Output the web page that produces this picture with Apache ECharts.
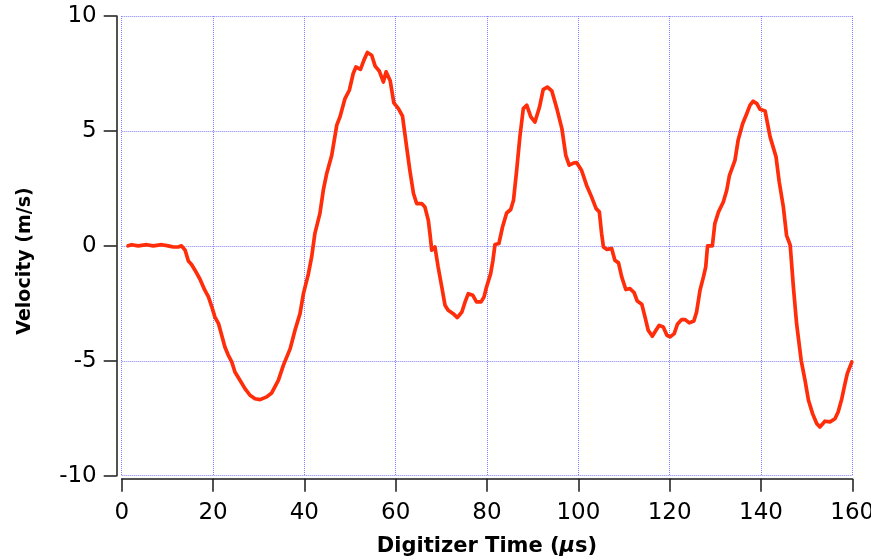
<!DOCTYPE html>
<html>
<head>
<meta charset="utf-8">
<script src="https://cdn.jsdelivr.net/npm/echarts@6/dist/echarts.min.js"></script>
<style>
  html, body { margin: 0; padding: 0; background: #fff; }
  #chart { width: 871px; height: 560px; }
</style>
</head>
<body>
<div id="chart"></div>
<script>
// Digitizer time (µs) and measured velocity (m/s)
const timeUs = [
  1.4, 2.2, 3.6, 5.5, 6.9, 8.8, 10.2, 11.3, 12.4, 13.1, 13.9, 14.6, 15.3, 16.05,
  17.1, 18.2, 19.0, 19.7, 20.4, 21.2, 21.9, 22.6, 23.35, 24.1, 24.8, 25.9, 27.0,
  28.1, 29.2, 30.3, 31.75, 32.85, 34.3, 35.4, 36.9, 37.95, 39.05, 39.8, 40.9,
  41.6, 42.3, 43.4, 44.15, 44.9, 46.0, 47.1, 47.8, 48.5, 48.9, 49.85, 50.7, 51.3,
  52.3, 53.05, 53.8, 54.75, 55.5, 56.4, 57.3, 57.9, 58.8, 59.6, 60.6, 61.5, 62.4,
  63.1, 63.9, 64.6, 65.7, 66.4, 67.15, 67.5, 67.9, 68.6, 69.3, 70.1, 70.8, 71.5,
  72.6, 73.5, 74.5, 75.2, 75.9, 76.9, 77.7, 78.7, 79.35, 79.9, 80.8, 81.3, 81.75,
  82.6, 83.4, 84.3, 85.2, 85.8, 86.5, 87.2, 87.95, 88.7, 89.6, 90.5, 91.5, 92.3,
  93.2, 94.2, 95.3, 96.4, 97.25, 98.0, 99.05, 99.65, 100.7, 101.8, 102.9, 103.9,
  104.6, 105.1, 105.5, 106.2, 107.3, 108.0, 108.8, 109.5, 110.4, 111.3, 112.2,
  112.9, 113.9, 114.6, 115.3, 116.2, 117.0, 117.7, 118.6, 119.4, 120.1, 121.0,
  121.7, 122.6, 123.4, 124.3, 125.3, 125.9, 126.65, 127.4, 127.9, 128.3, 129.35,
  129.9, 130.7, 131.75, 132.5, 133.1, 134.3, 135.0, 136.0, 136.9, 137.6, 138.3,
  139.1, 139.8, 140.9, 142.0, 143.3, 144.0, 144.9, 145.6, 146.4, 147.1, 147.8,
  148.8, 149.65, 150.4, 151.3, 152.2, 152.9, 154.0, 155.1, 156.2, 156.9, 157.7,
  158.4, 158.9, 159.9
];
const velocity = [
  0.0, 0.05, 0.0, 0.05, 0.0, 0.05, 0.0, -0.05, -0.05, 0.0, -0.19, -0.66, -0.81, -1.06,
  -1.43, -1.93, -2.22, -2.63, -3.09, -3.38, -3.89, -4.4, -4.76, -5.05, -5.49, -5.85, -6.21,
  -6.5, -6.65, -6.69, -6.57, -6.4, -5.85, -5.2, -4.47, -3.67, -2.95, -2.08, -1.2,
  -0.48, 0.53, 1.4, 2.42, 3.15, 3.94, 5.25, 5.61, 6.12, 6.41, 6.77, 7.5, 7.78,
  7.68, 8.08, 8.41, 8.29, 7.82, 7.61, 7.13, 7.57, 7.18, 6.22, 5.97, 5.64, 4.3,
  3.29, 2.28, 1.84, 1.84, 1.69, 1.11, 0.54, -0.19, -0.05, -0.92, -1.79, -2.58, -2.8,
  -2.95, -3.12, -2.88, -2.44, -2.08, -2.15, -2.44, -2.44, -2.22, -1.79, -1.21, -0.63, 0.06,
  0.1, 0.82, 1.43, 1.58, 1.98, 3.29, 4.74, 5.97, 6.12, 5.61, 5.39, 6.04, 6.8,
  6.91, 6.74, 5.97, 5.1, 3.94, 3.51, 3.61, 3.62, 3.29, 2.64, 2.13, 1.62,
  1.48, 0.54, -0.05, -0.15, -0.12, -0.63, -0.74, -1.35, -1.9, -1.86, -2.03,
  -2.4, -2.54, -3.09, -3.67, -3.93, -3.67, -3.46, -3.53, -3.89, -3.96, -3.82,
  -3.41, -3.21, -3.21, -3.35, -3.27, -2.88, -1.93, -1.35, -0.92, 0.0, 0.0,
  0.97, 1.48, 1.91, 2.42, 3.07, 3.72, 4.6, 5.32, 5.76, 6.12, 6.29,
  6.19, 5.94, 5.87, 4.74, 3.87, 2.78, 1.69, 0.46, 0.03, -1.79, -3.38,
  -4.98, -5.85, -6.72, -7.3, -7.73, -7.88, -7.63, -7.66, -7.52, -7.23, -6.65,
  -5.99, -5.56, -5.05
];
const xTicks = { min: 0, max: 160, step: 20 };
const yTicks = { min: -10, max: 10, step: 5 };
const xTitle = 'Digitizer Time ({mu|μ}s)';
const yTitle = 'Velocity (m/s)';

const points = timeUs.map((t, i) => [t, velocity[i]]);

const chart = echarts.init(document.getElementById('chart'), null, { renderer: 'canvas' });

const fontFamily = '"DejaVu Sans", Verdana, sans-serif';
const axisColor = '#1a1a1a';
const gridLine = { show: true, lineStyle: { color: '#8080ff', width: 1, type: [1, 1] } };

chart.setOption({
  animation: false,
  backgroundColor: '#ffffff',
  grid: {
    left: 121.7, right: 18.7, top: 16, bottom: 84.3,
    containLabel: false, outerBoundsMode: 'none'
  },
  xAxis: {
    type: 'value',
    min: xTicks.min, max: xTicks.max, interval: xTicks.step,
    offset: 3,
    axisLine: { show: true, onZero: false, lineStyle: { color: axisColor, width: 1.5 } },
    axisTick: { show: true, inside: false, length: 13, lineStyle: { color: axisColor, width: 1.5 } },
    axisLabel: { color: '#000', fontSize: 23, fontFamily, margin: 23, hideOverlap: false },
    splitLine: gridLine,
    name: xTitle,
    nameLocation: 'middle',
    nameGap: 57,
    nameTextStyle: {
      color: '#000', fontSize: 21, fontWeight: 'bold', fontFamily,
      rich: { mu: { fontSize: 21, fontWeight: 'bold', fontStyle: 'italic', fontFamily, color: '#000' } }
    }
  },
  yAxis: {
    type: 'value',
    min: yTicks.min, max: yTicks.max, interval: yTicks.step,
    offset: 5,
    axisLine: { show: true, onZero: false, lineStyle: { color: axisColor, width: 1.5 } },
    axisTick: { show: true, inside: false, length: 13, lineStyle: { color: axisColor, width: 1.5 } },
    axisLabel: { color: '#000', fontSize: 23, fontFamily, margin: 20, hideOverlap: false },
    splitLine: gridLine
  },
  graphic: [{
    type: 'text',
    x: 25, y: 261,
    rotation: Math.PI / 2,
    style: {
      text: yTitle,
      fill: '#000',
      font: 'bold 19px ' + fontFamily,
      align: 'center',
      verticalAlign: 'middle'
    }
  }],
  series: [{
    type: 'line',
    data: points,
    showSymbol: false,
    smooth: false,
    lineStyle: { color: '#ff2d0a', width: 3.7, join: 'round', cap: 'round' },
    z: 5
  }]
});
</script>
</body>
</html>
